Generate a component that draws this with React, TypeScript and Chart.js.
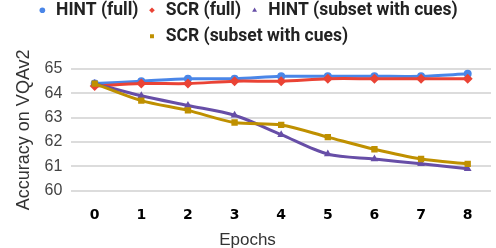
import React, { useEffect, useRef } from "react";
import { Chart, registerables } from "chart.js";

Chart.register(...registerables);

const epochs = ["0", "1", "2", "3", "4", "5", "6", "7", "8"];
const hintFull = [64.4, 64.5, 64.6, 64.6, 64.7, 64.7, 64.7, 64.7, 64.8];
const scrFull = [64.3, 64.4, 64.4, 64.5, 64.5, 64.6, 64.6, 64.6, 64.6];
const hintSubset = [64.4, 63.9, 63.5, 63.1, 62.3, 61.5, 61.3, 61.1, 60.9];
const scrSubset = [64.4, 63.7, 63.3, 62.8, 62.7, 62.2, 61.7, 61.3, 61.1];
const seriesNames = ["HINT (full)", "SCR (full)", "HINT (subset with cues)", "SCR (subset with cues)"];
const colors = ["#4a86e8", "#ea4335", "#674ea7", "#bf9000"];
const pointStyles = ["circle", "rectRot", "triangle", "rect"];
const yMin = 60;
const yMax = 65;

const legendGap = {
  id: "legendGap",
  beforeInit(chart: any) {
    const legend = chart.legend;
    if (!legend) return;
    const fit = legend.fit;
    legend.fit = function () {
      fit.call(legend);
      legend.height += 14;
    };
  },
};

export default function App() {
  const ref = useRef<HTMLCanvasElement>(null);
  useEffect(() => {
    const values = [hintFull, scrFull, hintSubset, scrSubset];
    const radii = [4, 5, 4.5, 4.5];
    const chart = new Chart(ref.current!, {
      type: "line",
      data: {
        labels: epochs,
        datasets: values.map((v, i) => ({
          label: seriesNames[i],
          data: v,
          borderColor: colors[i],
          backgroundColor: colors[i],
          borderWidth: 3,
          pointStyle: pointStyles[i] as any,
          pointRadius: radii[i],
          pointBorderWidth: 0,
          tension: 0.3,
          order: 4 - i,
        })),
      },
      plugins: [legendGap],
      options: {
        animation: false,
        responsive: false,
        maintainAspectRatio: false,
        layout: { padding: { top: -7, right: 1, bottom: -3, left: 0 } },
        plugins: {
          tooltip: { enabled: false },
          legend: {
            position: "top",
            labels: {
              usePointStyle: true,
              boxWidth: 10,
              boxHeight: 4,
              padding: 8.5,
              color: "#222",
              font: { family: "Roboto, 'Liberation Sans', sans-serif", size: 17.5, weight: "bold" },
              sort: (a: any, b: any) => a.datasetIndex - b.datasetIndex,
            },
          },
          title: {
            display: true,
            position: "bottom",
            text: "Epochs",
            color: "#333",
            font: { family: "'Liberation Sans', Arial, sans-serif", size: 17, weight: "normal" },
            padding: { top: 0, bottom: 0 },
          },
        },
        scales: {
          x: {
            offset: true,
            grid: { display: false, drawTicks: false },
            border: { display: false },
            afterFit: (scale: any) => {
              scale.height = 40;
            },
            ticks: {
              color: "#000",
              padding: 16,
              font: { family: "'DejaVu Sans', sans-serif", size: 14, weight: "bold" },
            },
          },
          y: {
            min: yMin,
            max: yMax,
            border: { display: false },
            grid: { color: "#dcdcdc", lineWidth: 2, drawTicks: false },
            ticks: {
              stepSize: 1,
              autoSkip: false,
              padding: 9,
              color: "#444",
              font: { family: "'Liberation Sans', Arial, sans-serif", size: 16 },
            },
            title: {
              display: true,
              text: "Accuracy on VQAv2",
              color: "#333",
              font: { family: "'Liberation Sans', Arial, sans-serif", size: 18 },
              padding: { top: 13, bottom: 1 },
            },
          },
        },
      },
    });
    return () => chart.destroy();
  }, []);
  return (
    <div style={{ position: "fixed", left: 0, top: 0, width: 496, height: 248, background: "#fff" }}>
      <canvas ref={ref} width={496} height={248} style={{ width: 496, height: 248 }} />
    </div>
  );
}
